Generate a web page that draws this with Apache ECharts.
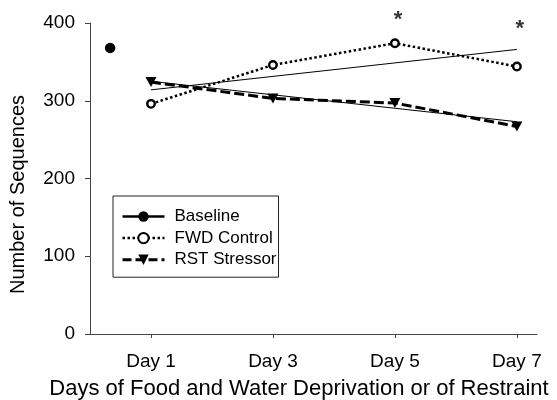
<!DOCTYPE html>
<html>
<head>
<meta charset="utf-8">
<script src="https://cdn.jsdelivr.net/npm/echarts@6/dist/echarts.min.js"></script>
<style>
html,body{margin:0;padding:0;background:#fff;}
#chart{width:557px;height:400px;}
</style>
</head>
<body>
<div id="chart"></div>
<script>
// ---- data ----
const days = [1, 3, 5, 7];
const dayLabels = ['Day 1', 'Day 3', 'Day 5', 'Day 7'];
const baselineDay = [0.33];
const baselineValue = [368];
const fwdControl = [296, 346, 374, 344];
const rstStressor = [324, 303, 297, 267];
const trendDays = [1, 7];
const fwdTrend = [314, 366];
const rstTrend = [325, 273];
const starDays = [5, 7];
const starValues = [407, 395];
const starText = ['*', '*'];
const yTicks = [0, 100, 200, 300, 400];

const FONT = "'Liberation Sans', Arial, sans-serif";
const pair = (xs, ys) => xs.map((x, i) => [x, ys[i]]);

const chart = echarts.init(document.getElementById('chart'), null, {renderer: 'canvas'});
chart.setOption({
  animation: false,
  backgroundColor: '#fff',
  textStyle: {fontFamily: FONT},
  grid: {left: 90, right: 20, top: 23, bottom: 66, containLabel: false, outerBoundsMode: 'none'},
  legend: {
    orient: 'vertical',
    left: 113, top: 196,
    padding: [12, 2, 9, 8],
    borderColor: '#222', borderWidth: 1,
    itemWidth: 42, itemHeight: 13, itemGap: 4.6,
    textStyle: {fontSize: 17, color: '#000', fontFamily: FONT, lineHeight: 13, padding: [0, 0, 0, 5]},
    data: [
      {name: 'Baseline', lineStyle: {width: 2.5, type: 'solid', color: '#000'}},
      {name: 'FWD Control', lineStyle: {width: 2.5, type: [2.5, 2.5], color: '#000'}},
      {name: 'RST Stressor', lineStyle: {width: 3, type: [9, 4], color: '#000'}}
    ]
  },
  xAxis: {
    type: 'value', min: 0, max: 7.33,
    name: 'Days of Food and Water Deprivation or of Restraint',
    nameLocation: 'middle', nameGap: 44,
    nameTextStyle: {fontSize: 22, color: '#000', fontFamily: FONT, padding: [0, 29, 0, 0]},
    axisLine: {show: true, onZero: false, lineStyle: {color: '#444', width: 1}},
    axisTick: {show: true, length: 4, customValues: days, lineStyle: {color: '#444'}},
    axisLabel: {
      customValues: days, margin: 18, fontSize: 19, color: '#000', fontFamily: FONT,
      formatter: v => dayLabels[days.indexOf(Math.round(v))]
    },
    splitLine: {show: false}
  },
  yAxis: {
    type: 'value', min: 0, max: 400, interval: 100,
    name: 'Number of Sequences',
    nameLocation: 'middle', nameGap: 62,
    nameTextStyle: {fontSize: 20, color: '#000', fontFamily: FONT, padding: [0, 32, 0, 0]},
    axisLine: {show: true, lineStyle: {color: '#444', width: 1}},
    axisTick: {show: true, length: 5, customValues: yTicks, lineStyle: {color: '#444'}},
    axisLabel: {margin: 15, fontSize: 19, color: '#000', fontFamily: FONT},
    splitLine: {show: false}
  },
  series: [
    {
      name: 'FWD trend', type: 'line', data: pair(trendDays, fwdTrend),
      symbol: 'none', lineStyle: {color: '#000', width: 1}, silent: true, z: 1
    },
    {
      name: 'RST trend', type: 'line', data: pair(trendDays, rstTrend),
      symbol: 'none', lineStyle: {color: '#000', width: 1}, silent: true, z: 1
    },
    {
      name: 'Baseline', type: 'line', data: pair(baselineDay, baselineValue),
      symbol: 'circle', symbolSize: 10.5,
      itemStyle: {color: '#000'}, lineStyle: {color: '#000', width: 2.5}, z: 3
    },
    {
      name: 'FWD Control', type: 'line', data: pair(days, fwdControl),
      symbol: 'circle', symbolSize: 7.5,
      itemStyle: {color: '#fff', borderColor: '#000', borderWidth: 2.4},
      lineStyle: {color: '#000', width: 2.5, type: [2.5, 2.5]}, z: 3
    },
    {
      name: 'RST Stressor', type: 'line', data: pair(days, rstStressor),
      symbol: 'triangle', symbolSize: [11, 10], symbolRotate: 180,
      itemStyle: {color: '#000'},
      lineStyle: {color: '#000', width: 3, type: [10, 4]}, z: 3
    },
    {
      name: 'stars', type: 'scatter', data: pair(starDays, starValues),
      symbolSize: 0, clip: false, silent: true,
      label: {
        show: true, position: 'inside', fontSize: 22, fontWeight: 'bold', color: '#000', fontFamily: FONT,
        offset: [3, 2],
        formatter: p => starText[p.dataIndex]
      }
    }
  ]
});
</script>
</body>
</html>
